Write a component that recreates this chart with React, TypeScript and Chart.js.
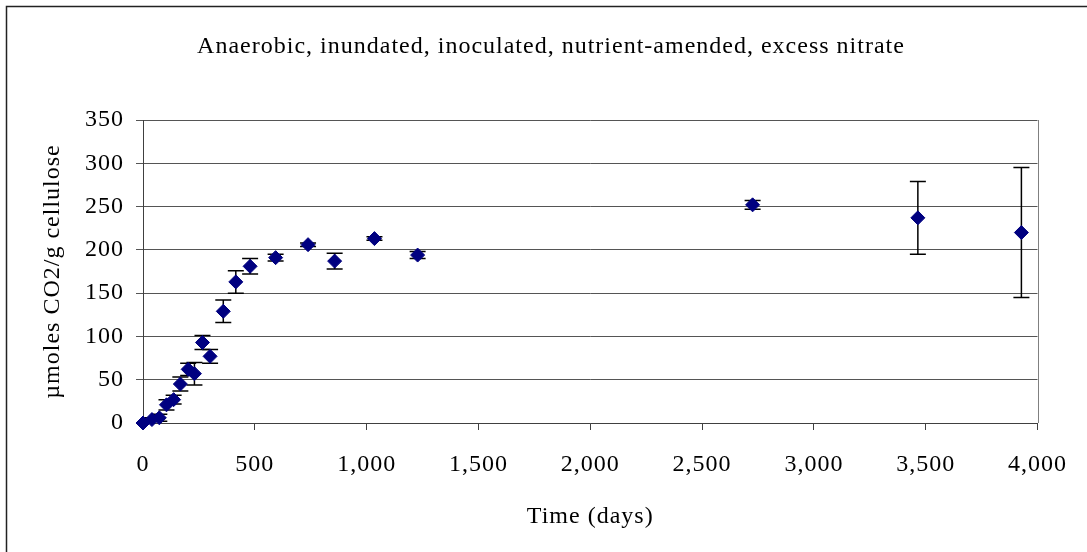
import React, { useEffect, useRef } from "react";
import { Chart, registerables } from "chart.js";

Chart.register(...registerables);

const chartTitle = "Anaerobic, inundated, inoculated, nutrient-amended, excess nitrate";
const xAxisTitle = "Time (days)";
const yAxisTitle = "\u00B5moles CO2/g cellulose";

const days = [0, 40, 73, 105, 137, 167, 202, 230, 266, 300, 359, 415, 479, 593, 738, 857, 1035, 1228, 2726, 3465, 3928];
const co2 = [0, 4, 6, 21, 27, 45, 62, 57, 93, 77, 129, 163, 181, 191, 206, 187, 213, 194, 252, 237, 220];
const errs = [0, 2, 4, 6, 5, 8, 7, 13, 8, 8, 13, 13, 9, 4, 2, 9, 2, 4, 5, 42, 75];

const xMin = 0;
const xMax = 4000;
const xStep = 500;
const yMin = 0;
const yMax = 350;
const yStep = 50;

const FONT = '"Liberation Serif", "Times New Roman", serif';
const SPACING = "1px";

const spacingPlugin = {
  id: "spacing",
  beforeLayout(chart: any) {
    chart.ctx.letterSpacing = SPACING;
  },
  beforeDraw(chart: any) {
    chart.ctx.letterSpacing = SPACING;
  },
};

const framePlugin = {
  id: "frame",
  beforeDraw(chart: any) {
    const ctx = chart.ctx;
    ctx.save();
    ctx.fillStyle = "#ffffff";
    ctx.fillRect(0, 0, chart.width, chart.height);
    ctx.strokeStyle = "#222222";
    ctx.lineWidth = 1.5;
    ctx.strokeRect(6.5, 6.5, chart.width + 20, chart.height + 20);
    ctx.restore();
  },
  afterDraw(chart: any) {
    const ctx = chart.ctx;
    const a = chart.chartArea;
    ctx.save();
    ctx.strokeStyle = "#808080";
    ctx.lineWidth = 1;
    ctx.beginPath();
    ctx.moveTo(Math.round(a.right) + 0.5, a.top);
    ctx.lineTo(Math.round(a.right) + 0.5, a.bottom);
    ctx.stroke();
    ctx.letterSpacing = SPACING;
    ctx.fillStyle = "#000000";
    ctx.font = `24px ${FONT}`;
    ctx.textAlign = "center";
    ctx.textBaseline = "middle";
    ctx.fillText(chartTitle, 551, 47);
    ctx.restore();
  },
};

const errorBarPlugin = {
  id: "errorBars",
  beforeDatasetsDraw(chart: any) {
    const ctx = chart.ctx;
    const xs = chart.scales.x;
    const ys = chart.scales.y;
    ctx.save();
    ctx.strokeStyle = "#000000";
    ctx.lineWidth = 1.5;
    for (let i = 0; i < days.length; i++) {
      if (!errs[i]) continue;
      const px = xs.getPixelForValue(days[i]);
      const top = ys.getPixelForValue(co2[i] + errs[i]);
      const bot = ys.getPixelForValue(co2[i] - errs[i]);
      ctx.beginPath();
      ctx.moveTo(px, top);
      ctx.lineTo(px, bot);
      ctx.moveTo(px - 8, top);
      ctx.lineTo(px + 8, top);
      ctx.moveTo(px - 8, bot);
      ctx.lineTo(px + 8, bot);
      ctx.stroke();
    }
    ctx.restore();
  },
};

export default function App() {
  const ref = useRef<HTMLCanvasElement | null>(null);

  useEffect(() => {
    if (!ref.current) return;
    const chart = new Chart(ref.current, {
      type: "scatter",
      data: {
        datasets: [
          {
            label: "CO2",
            data: days.map((d, i) => ({ x: d, y: co2[i] })),
            pointStyle: "rectRot",
            pointRadius: 7,
            pointBackgroundColor: "#000080",
            pointBorderColor: "#000080",
            pointBorderWidth: 1,
            showLine: false,
            clip: false as any,
          },
        ],
      },
      options: {
        responsive: false,
        animation: false,
        devicePixelRatio: 1,
        layout: { padding: { left: 0, right: 44, top: 120, bottom: 0 } },
        plugins: {
          legend: { display: false },
          title: { display: false },
          tooltip: { enabled: false },
        },
        scales: {
          x: {
            type: "linear",
            min: xMin,
            max: xMax,
            afterFit(scale: any) {
              scale.height = 129;
            },
            ticks: {
              stepSize: xStep,
              color: "#000000",
              font: { family: FONT, size: 24 },
              padding: 20,
              maxRotation: 0,
              callback: (v: any) => Number(v).toLocaleString("en-US"),
            },
            grid: {
              drawOnChartArea: false,
              drawTicks: true,
              tickLength: 7,
              color: "#404040",
            },
            border: { color: "#404040", width: 1 },
            title: {
              display: true,
              text: xAxisTitle,
              color: "#000000",
              font: { family: FONT, size: 24 },
              padding: { top: 0, bottom: 21 },
            },
          },
          y: {
            type: "linear",
            min: yMin,
            max: yMax,
            afterFit(scale: any) {
              scale.width = 143;
            },
            ticks: {
              stepSize: yStep,
              color: "#000000",
              font: { family: FONT, size: 24 },
              padding: 12,
            },
            grid: {
              drawOnChartArea: true,
              drawTicks: true,
              tickLength: 7,
              color: "#555555",
              lineWidth: 1,
            },
            border: { color: "#404040", width: 1 },
            title: {
              display: true,
              text: yAxisTitle,
              color: "#000000",
              font: { family: FONT, size: 24 },
              padding: { top: 38, bottom: 0 },
            },
          },
        },
      },
      plugins: [spacingPlugin, framePlugin, errorBarPlugin],
    });
    return () => chart.destroy();
  }, []);

  return (
    <div style={{ position: "absolute", left: 0, top: 0, width: 1087, height: 552, background: "#fff" }}>
      <canvas ref={ref} width={1087} height={552} style={{ display: "block" }} />
    </div>
  );
}
